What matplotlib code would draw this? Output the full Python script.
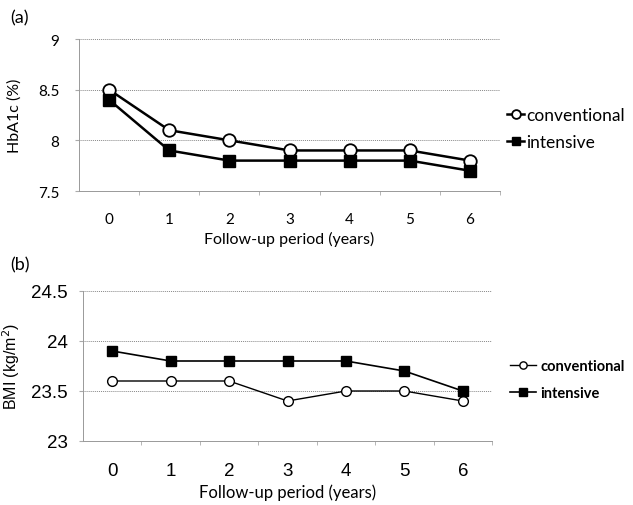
import matplotlib
matplotlib.use("Agg")
import matplotlib.pyplot as plt

years = [0, 1, 2, 3, 4, 5, 6]
hba1c_conventional = [8.5, 8.1, 8.0, 7.9, 7.9, 7.9, 7.8]
hba1c_intensive = [8.4, 7.9, 7.8, 7.8, 7.8, 7.8, 7.7]
bmi_conventional = [23.6, 23.6, 23.6, 23.4, 23.5, 23.5, 23.4]
bmi_intensive = [23.9, 23.8, 23.8, 23.8, 23.8, 23.7, 23.5]

W, H = 633, 506
fig = plt.figure(figsize=(W / 100, H / 100), dpi=100)


def px_axes(x0, y0, x1, y1):
    return fig.add_axes([x0 / W, 1 - y1 / H, (x1 - x0) / W, (y1 - y0) / H])


def style(ax, ylim, yticks, font, tsize, xpad, ypad):
    ax.set_xlim(-0.5, 6.5)
    ax.set_ylim(*ylim)
    ax.set_xticks(years)
    ax.set_xticklabels([str(y) for y in years], family=font, fontsize=tsize)
    ax.set_yticks(yticks)
    ax.set_yticklabels([f"{t:g}" for t in yticks], family=font, fontsize=tsize)
    ax.tick_params(axis="x", which="major", length=0, pad=xpad)
    ax.tick_params(axis="y", length=3, color="#aaaaaa", pad=ypad)
    ax.set_xticks([y + 0.5 for y in years], minor=True)
    ax.tick_params(which="minor", axis="x", length=3, color="#aaaaaa")
    ax.grid(axis="y", color="#888888", linestyle=(0, (1, 1)), linewidth=0.7)
    for s in ax.spines.values():
        s.set_color("#999999")
        s.set_linestyle((0, (1, 1)))
        s.set_linewidth(0.7)
    ax.spines["right"].set_visible(False)
    ax.spines["top"].set_visible(False)


# (a) HbA1c
ax1 = px_axes(79, 40, 500, 192)
ax1.plot(years, hba1c_conventional, color="black", lw=1.8, marker="o", ms=9,
         mfc="white", mec="black", mew=1.3, label="conventional")
ax1.plot(years, hba1c_intensive, color="black", lw=1.8, marker="s", ms=8.5,
         mfc="black", mec="black", label="intensive")
style(ax1, (7.5, 9), [7.5, 8, 8.5, 9], "Lato", 11, 15, 11)
ax1.set_ylabel("HbA1c (%)", family="Lato", fontsize=11.5)
ax1.yaxis.set_label_coords(-0.135, 0.5)
ax1.set_xlabel("Follow-up period (years)", family="Lato", fontsize=11.5)
ax1.xaxis.set_label_coords(0.5, -0.26)
ax1.legend(loc="center left", bbox_to_anchor=(1.0, 0.41), frameon=False,
           borderaxespad=0, prop={"family": "Lato", "size": 12.5}, handlelength=1.0,
           handletextpad=0.1, labelspacing=0.65, markerscale=0.7)
fig.text(10 / W, 1 - 18 / H, "(a)", family="Lato", fontsize=13, va="center")

# (b) BMI
ax2 = px_axes(83, 292, 492, 442)
ax2.plot(years, bmi_conventional, color="black", lw=1.0, marker="o", ms=7,
         mfc="white", mec="black", mew=1.0, label="conventional")
ax2.plot(years, bmi_intensive, color="black", lw=1.2, marker="s", ms=7.5,
         mfc="black", mec="black", label="intensive")
style(ax2, (23, 24.5), [23, 23.5, 24, 24.5], "Liberation Sans", 13.5, 15, 8)
ax2.set_ylabel("BMI (kg/m$^2$)", family="Liberation Sans", fontsize=11.5)
ax2.yaxis.set_label_coords(-0.15, 0.5)
ax2.set_xlabel("Follow-up period (years)", family="Lato", fontsize=12)
ax2.xaxis.set_label_coords(0.5, -0.28)
ax2.legend(loc="center left", bbox_to_anchor=(1.03, 0.41), frameon=False,
           borderaxespad=0, prop={"family": "Lato", "size": 10.5, "weight": "bold"},
           handlelength=1.8, handletextpad=0.3, labelspacing=0.9, markerscale=0.75)
fig.text(10 / W, 1 - 265 / H, "(b)", family="Lato", fontsize=13, va="center")

fig.savefig("out.png", dpi=100)
